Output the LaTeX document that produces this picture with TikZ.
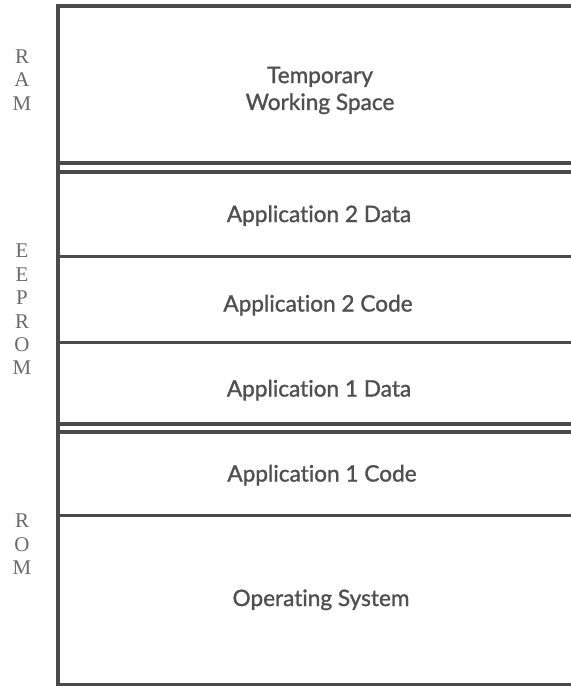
\documentclass[tikz,border=0pt]{standalone}
\usepackage{fontspec}
\setmainfont{Liberation Serif}
\newfontfamily\boxfont[Ligatures={NoCommon}, FakeBold=1.3]{Lato}
\definecolor{linegray}{HTML}{4A4A4A}
\definecolor{textgray}{HTML}{505050}
\definecolor{sidegray}{HTML}{6A6A6A}
\tikzset{
  wall/.style={draw=linegray, line width=4bp},
  thinwall/.style={draw=linegray, line width=3bp},
  boxtext/.style={anchor=base, text=textgray, inner sep=0pt, align=center,
    font=\boxfont\fontsize{22.7}{27}\selectfont},
  sidetext/.style={text=sidegray, inner sep=0pt, align=center,
    font=\fontsize{21}{23.5}\selectfont}
}
\begin{document}
\begin{tikzpicture}[x=1bp,y=-1bp]
\useasboundingbox (0,0) rectangle (571,686);
\fill[white] (0,0) rectangle (571,686);
% outer frame
\draw[wall] (57.5,684) -- (57.5,6) -- (571,6);
\draw[thinwall] (56,684) -- (571,684);
% double separators
\draw[wall] (57.5,163) -- (571,163);
\draw[wall] (57.5,172) -- (571,172);
\draw[wall] (57.5,424) -- (571,424);
\draw[wall] (57.5,432) -- (571,432);
% single separators
\draw[thinwall] (57.5,256) -- (571,256);
\draw[thinwall] (57.5,342) -- (571,342);
\draw[thinwall] (57.5,515) -- (571,515);
% texts
\node[boxtext] (tws) at (320,110) {Temporary\\Working Space};
\node[boxtext] (a2d) at (319,222) {Application 2 Data};
\node[boxtext] (a2c) at (318,311.5) {Application 2 Code};
\node[boxtext] (a1d) at (319,396.5) {Application 1 Data};
\node[boxtext] (a1c) at (322,481.5) {Application 1 Code};
\node[boxtext] (os) at (321,606) {Operating System};
% side labels
\node[sidetext] (ram) at (22,80) {R\\A\\M};
\node[sidetext] (eeprom) at (22,309.5) {E\\E\\P\\R\\O\\M};
\node[sidetext] (rom) at (22,544.5) {R\\O\\M};
\end{tikzpicture}
\end{document}
